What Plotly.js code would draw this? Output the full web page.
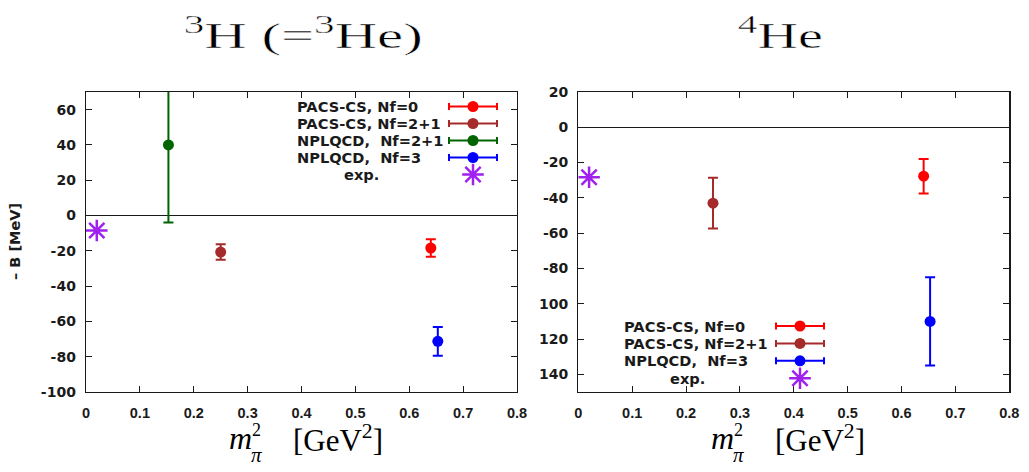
<!DOCTYPE html>
<html><head><meta charset="utf-8">
<script src="https://cdn.plot.ly/plotly-3.0.1.min.js"></script>
<style>html,body{margin:0;padding:0;background:#fff}#chart{width:1029px;height:472px}</style>
</head><body><div id="chart"></div>
<script>
// ---------- data ----------
const xTickVals = [0, 0.1, 0.2, 0.3, 0.4, 0.5, 0.6, 0.7, 0.8];
const xTickText = ['0', '0.1', '0.2', '0.3', '0.4', '0.5', '0.6', '0.7', '0.8'];
const h3TickVals = [-100, -80, -60, -40, -20, 0, 20, 40, 60];
const h3TickText = ['-100', '-80', '-60', '-40', '-20', '0', '20', '40', '60'];
const he4TickVals = [-140, -120, -100, -80, -60, -40, -20, 0, 20];
const he4TickText = ['140', '120', '100', '-80', '-60', '-40', '-20', '0', '20'];

const seriesNames = ['PACS-CS, Nf=0', 'PACS-CS, Nf=2+1', 'NPLQCD,  Nf=2+1', 'NPLQCD,  Nf=3', 'exp.'];
const seriesColors = ['#ff0000', '#a52a2a', '#006400', '#0000ff', '#a020f0'];

// 3H (=3He) panel
const h3_pacs0_x = [0.64],  h3_pacs0_y = [-18.4],  h3_pacs0_err = [5.0];
const h3_pacs21_x = [0.25], h3_pacs21_y = [-20.7], h3_pacs21_err = [4.4];
const h3_npl21_x = [0.153], h3_npl21_y = [40.0],  h3_npl21_err = [44.0];
const h3_npl3_x = [0.653],  h3_npl3_y = [-71.3],  h3_npl3_err = [8.1];
const h3_exp_x = [0.02],    h3_exp_y = [-8.48];

// 4He panel
const he4_pacs0_x = [0.641], he4_pacs0_y = [-27.7],  he4_pacs0_err = [9.8];
const he4_pacs21_x = [0.25], he4_pacs21_y = [-43.0], he4_pacs21_err = [14.4];
const he4_npl3_x = [0.653],  he4_npl3_y = [-110.0],  he4_npl3_err = [25.0];
const he4_exp_x = [0.02],    he4_exp_y = [-28.3];

// ---------- styling helpers ----------
const INK = '#1a1a1a';
function pt(name, color, x, y, err, xa, ya) {
  return {
    type: 'scatter', mode: 'markers', name: name, x: x, y: y,
    xaxis: xa, yaxis: ya, showlegend: false, hoverinfo: 'skip',
    marker: {color: color, size: 11},
    error_y: {type: 'data', array: err, visible: true, color: color, thickness: 2, width: 5}
  };
}
function star(name, color, x, y, xa, ya) {
  return {
    type: 'scatter', mode: 'markers', name: name, x: x, y: y,
    xaxis: xa, yaxis: ya, showlegend: false, hoverinfo: 'skip',
    marker: {symbol: 'asterisk-open', size: 18, color: color, line: {color: color, width: 2.5}}
  };
}

const traces = [
  pt(seriesNames[0], seriesColors[0], h3_pacs0_x, h3_pacs0_y, h3_pacs0_err, 'x', 'y'),
  pt(seriesNames[1], seriesColors[1], h3_pacs21_x, h3_pacs21_y, h3_pacs21_err, 'x', 'y'),
  pt(seriesNames[2], seriesColors[2], h3_npl21_x, h3_npl21_y, h3_npl21_err, 'x', 'y'),
  pt(seriesNames[3], seriesColors[3], h3_npl3_x, h3_npl3_y, h3_npl3_err, 'x', 'y'),
  star(seriesNames[4], seriesColors[4], h3_exp_x, h3_exp_y, 'x', 'y'),
  pt(seriesNames[0], seriesColors[0], he4_pacs0_x, he4_pacs0_y, he4_pacs0_err, 'x2', 'y2'),
  pt(seriesNames[1], seriesColors[1], he4_pacs21_x, he4_pacs21_y, he4_pacs21_err, 'x2', 'y2'),
  pt(seriesNames[3], seriesColors[3], he4_npl3_x, he4_npl3_y, he4_npl3_err, 'x2', 'y2'),
  star(seriesNames[4], seriesColors[4], he4_exp_x, he4_exp_y, 'x2', 'y2')
];

const annotations = [];
const legendFont = {family: 'DejaVu Sans', size: 14.6, weight: 'bold', color: INK};

// legend block drawn on a hidden pixel-coordinate overlay axis (x3/y3)
function legendBlock(idx, textX, expTextX, sampleX, y0, dy) {
  idx.forEach((k, r) => {
    const y = y0 + r * dy;
    const isExp = seriesNames[k] === 'exp.';
    annotations.push({
      xref: 'x3', yref: 'y3', x: isExp ? expTextX : textX, y: y,
      xanchor: 'left', yanchor: 'middle', showarrow: false,
      text: seriesNames[k].replace(/  /g, ' &nbsp;'), font: legendFont
    });
    if (isExp) {
      traces.push({type: 'scatter', mode: 'markers', x: [sampleX], y: [y], xaxis: 'x3', yaxis: 'y3',
        showlegend: false, hoverinfo: 'skip', cliponaxis: false,
        marker: {symbol: 'asterisk-open', size: 18, color: seriesColors[k], line: {color: seriesColors[k], width: 2.5}}});
    } else {
      traces.push({type: 'scatter', mode: 'markers', x: [sampleX], y: [y], xaxis: 'x3', yaxis: 'y3',
        showlegend: false, hoverinfo: 'skip', cliponaxis: false,
        marker: {color: seriesColors[k], size: 11},
        error_x: {type: 'constant', value: 24, visible: true, color: seriesColors[k], thickness: 2, width: 3.5}});
    }
  });
}
legendBlock([0, 1, 2, 3, 4], 295, 342, 473, 106.5, 17);
legendBlock([0, 1, 3, 4], 622, 668, 800, 326, 17.4);

// titles and axis titles
const serif = 'Liberation Serif';
const stretch = []; // [annotation index, target width]
function ann(o) { annotations.push(Object.assign({xref: 'x3', yref: 'y3', showarrow: false, xanchor: 'center', yanchor: 'middle'}, o)); return annotations.length - 1; }
stretch.push([ann({x: 302.5, y: 33, text: '<sup>3</sup>H (=<sup>3</sup>He)', font: {family: serif, size: 36, weight: 'normal', color: '#000'}}), 239]);
stretch.push([ann({x: 780.5, y: 33, text: '<sup>4</sup>He', font: {family: serif, size: 36, weight: 'normal', color: '#000'}}), 85]);
[0, 482].forEach(dx => {
  ann({x: 240.5 + dx, y: 438, text: '<i>m</i>', font: {family: serif, size: 32, weight: 'normal', color: '#000'}});
  ann({x: 256.5 + dx, y: 430, text: '2', font: {family: serif, size: 18, weight: 'normal', color: '#000'}});
  ann({x: 256.5 + dx, y: 455, text: '<i>π</i>', font: {family: serif, size: 21, weight: 'normal', color: '#000'}});
  ann({x: 338 + dx, y: 438, text: '[GeV<sup>2</sup>]', font: {family: serif, size: 31, weight: 'normal', color: '#000'}});
});
ann({x: 15, y: 242, text: '– B [MeV]', textangle: -90, font: {family: 'DejaVu Sans', size: 14.5, weight: 'bold', color: INK}});

// axes
const yDom = [1 - 392 / 472, 1 - 92 / 472];
function xAxis(dom, anchor) {
  return {domain: dom, anchor: anchor, range: [0, 0.8], tickmode: 'array', tickvals: xTickVals, ticktext: xTickText,
    ticks: 'inside', ticklen: 6, tickwidth: 1, tickcolor: INK, mirror: 'ticks', showline: true, linecolor: INK,
    linewidth: 1.3, showgrid: false, zeroline: false, fixedrange: true, ticklabelstandoff: 7,
    tickfont: {family: 'Liberation Sans', size: 14.5, weight: 'bold', color: INK}};
}
function yAxis(range, vals, text, anchor) {
  return {domain: yDom, anchor: anchor, range: range, tickmode: 'array', tickvals: vals, ticktext: text,
    ticks: 'inside', ticklen: 6, tickwidth: 1, tickcolor: INK, mirror: 'ticks', showline: true, linecolor: INK,
    linewidth: 1.3, showgrid: false, zeroline: true, zerolinecolor: INK, zerolinewidth: 1.3, fixedrange: true,
    ticklabelstandoff: 6, tickfont: {family: 'DejaVu Sans', size: 14, weight: 'bold', color: INK}};
}

const layout = {
  width: 1029, height: 472, margin: {l: 0, r: 0, t: 0, b: 0},
  paper_bgcolor: '#fff', plot_bgcolor: 'rgba(0,0,0,0)', showlegend: false,
  xaxis: xAxis([86 / 1029, 517 / 1029], 'y'),
  yaxis: yAxis([-100, 70], h3TickVals, h3TickText, 'x'),
  xaxis2: xAxis([578.3 / 1029, 1009.3 / 1029], 'y2'),
  yaxis2: yAxis([-150, 20], he4TickVals, he4TickText, 'x2'),
  xaxis3: {domain: [0, 1], range: [0, 1029], visible: false, fixedrange: true, anchor: 'y3'},
  yaxis3: {domain: [0, 1], range: [472, 0], visible: false, fixedrange: true, anchor: 'x3'},
  annotations: annotations
};

Plotly.newPlot('chart', traces, layout, {staticPlot: true}).then(gd => {
  stretch.forEach(([i, w]) => {
    const t = gd.querySelector('.annotation[data-index="' + i + '"] text');
    if (!t) return;
    const bb = t.getBBox();
    if (!bb.width) return;
    t.style.transformBox = 'fill-box';
    t.style.transformOrigin = 'center';
    t.style.transform = 'scaleX(' + (w / bb.width).toFixed(3) + ')';
    // thin the stems a little, since the horizontal stretch thickens them
    t.style.stroke = '#fff';
    t.style.strokeWidth = '0.45px';
  });
});
</script></body></html>
